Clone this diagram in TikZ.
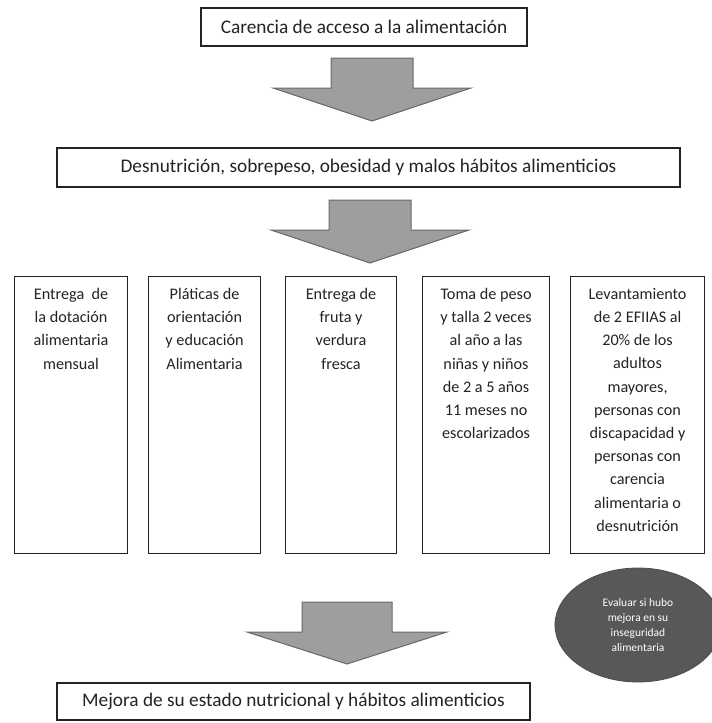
\documentclass[tikz,border=0pt]{standalone}
\usepackage{fontspec}
\setmainfont{Carlito}
\usetikzlibrary{shapes.geometric}
\definecolor{arrowfill}{RGB}{158,158,158}
\definecolor{arrowedge}{RGB}{105,105,105}
\definecolor{evalfill}{RGB}{88,88,88}
\definecolor{inkc}{RGB}{35,35,35}
\begin{document}
\begin{tikzpicture}[x=1pt,y=-1pt,
  box/.style={draw=inkc, line width=1.1pt, rectangle, inner sep=0pt,
    font=\fontsize{19.3}{23}\selectfont, text=inkc},
  colbox/.style={draw=inkc, line width=1.1pt, rectangle, inner sep=0pt, anchor=north west},
  coltext/.style={anchor=north, inner sep=0pt, align=center,
    font=\fontsize{16.2}{23.2}\selectfont, text=inkc},
  blockarrow/.style={fill=arrowfill, draw=arrowedge, line width=1pt, line join=miter},
]
\useasboundingbox (0,0) rectangle (712,723);

% top boxes
\node[box, minimum width=326, minimum height=38] (top) at (364,27) {Carencia de acceso a la alimentación};
\node[box, minimum width=623, minimum height=39] (mid) at (368.5,167.5) {Desnutrición, sobrepeso, obesidad y malos hábitos alimenticios};

% block arrows
\draw[blockarrow] (331,58) -- (413,58) -- (413,88) -- (471,88) -- (372,121) -- (273,88) -- (331,88) -- cycle;
\draw[blockarrow] (329,200) -- (411,200) -- (411,230) -- (469,230) -- (370,263) -- (271,230) -- (329,230) -- cycle;
\draw[blockarrow] (302,602) -- (392,602) -- (392,632) -- (447,632) -- (347,664) -- (247,632) -- (302,632) -- cycle;

% five columns
\node[colbox, minimum width=113, minimum height=277] (c1) at (14,276) {};
\node[colbox, minimum width=112, minimum height=277] (c2) at (148,276) {};
\node[colbox, minimum width=111, minimum height=277] (c3) at (285,276) {};
\node[colbox, minimum width=127, minimum height=277] (c4) at (422,276) {};
\node[colbox, minimum width=134, minimum height=277] (c5) at (570,276) {};

\node[coltext] (t1) at ([yshift=-12]c1.north) {Entrega\ \ de\\la dotación\\alimentaria\\mensual};
\node[coltext] (t2) at ([yshift=-12]c2.north) {Pláticas de\\orientación\\y educación\\Alimentaria};
\node[coltext] (t3) at ([yshift=-12]c3.north) {Entrega de\\fruta y\\verdura\\fresca};
\node[coltext] (t4) at ([yshift=-12]c4.north) {Toma de peso\\y talla 2 veces\\al año a las\\niñas y niños\\de 2 a 5 años\\11 meses no\\escolarizados};
\node[coltext] (t5) at ([yshift=-12]c5.north) {Levantamiento\\de 2 EFIIAS al\\20\% de los\\adultos\\mayores,\\personas con\\discapacidad y\\personas con\\carencia\\alimentaria o\\desnutrición};

% evaluation ellipse
\node[ellipse, fill=evalfill, draw=evalfill!85!black, line width=0.8pt,
  minimum width=166, minimum height=114, inner sep=0pt, align=center,
  text=white, font=\fontsize{11.5}{15.3}\selectfont] (ev) at (638,625)
  {Evaluar si hubo\\mejora en su\\inseguridad\\alimentaria};

% bottom box
\node[box, minimum width=473, minimum height=37] (bot) at (293.5,701.5) {Mejora de su estado nutricional y hábitos alimenticios};
\end{tikzpicture}
\end{document}
